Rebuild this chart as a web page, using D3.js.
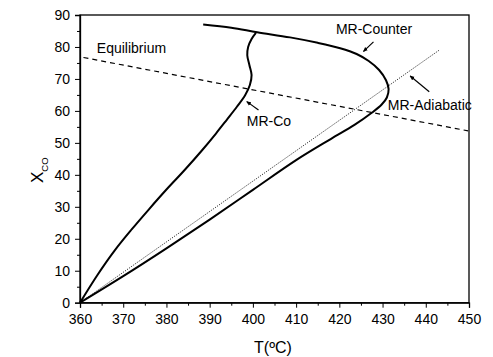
<!DOCTYPE html>
<html>
<head>
<meta charset="utf-8">
<script src="https://cdn.jsdelivr.net/npm/d3@7"></script>
<style>
  html, body { margin: 0; padding: 0; background: #fff; }
  svg { display: block; }
  text { font-family: Arial, "Liberation Sans", Helvetica, sans-serif; fill: #000; }
</style>
</head>
<body>
<svg id="chart" width="493" height="357"></svg>
<script>
// ---- data (T in °C, X_CO in %) ----
const xTicks = [360, 370, 380, 390, 400, 410, 420, 430, 440, 450];
const yTicks = [0, 10, 20, 30, 40, 50, 60, 70, 80, 90];

const coT = [360, 364, 368, 372, 376, 380, 384, 388, 391.5, 394, 396.3, 398.2, 399.3, 399.7, 399.2, 398.7, 398.9, 399.7, 400.7];
const coX = [0, 8.6, 16.3, 23, 29.3, 35.4, 41.2, 47.3, 53, 57.3, 61.3, 64.9, 68.1, 71.2, 74.3, 77.4, 80, 82.5, 84.4];

const counterT = [360, 370, 380, 390, 400, 410, 418, 423.5, 427.5, 429.8, 431, 431.4, 430.8, 429.2, 426.8, 424, 420.2, 415, 408.6, 401, 395, 388.5];
const counterX = [0, 8.3, 17.0, 26.0, 35.3, 44.6, 51.2, 55.6, 59.4, 62, 64.2, 66.8, 69.6, 72.8, 75.6, 77.8, 79.6, 81.3, 83, 84.6, 86, 87];

const adiabaticT = [360, 443.1];
const adiabaticX = [0, 79];

const equilT = [360.8, 449.8];
const equilX = [76.7, 53.75];

const labelNames = ["Equilibrium", "MR-Counter", "MR-Adiabatic", "MR-Co"];
const labelT = [363.9, 419.2, 431.2, 398.6];
const labelX = [78.1, 83.9, 60.3, 55.3];

const arrowFromT = [427.9, 440.8, 401.3];
const arrowFromX = [81.6, 66.0, 60.3];
const arrowToT = [425.6, 436.4, 398.6];
const arrowToX = [78.6, 70.9, 62.9];

// ---- layout ----
const svg = d3.select("#chart");
const x = d3.scaleLinear().domain([360, 450]).range([80, 469]);
const y = d3.scaleLinear().domain([0, 90]).range([302.7, 15]);

const defs = svg.append("defs");
defs.append("marker")
  .attr("id", "ah").attr("viewBox", "0 -3 6 6")
  .attr("refX", 5).attr("refY", 0)
  .attr("markerWidth", 5).attr("markerHeight", 5)
  .attr("markerUnits", "userSpaceOnUse")
  .attr("orient", "auto")
  .append("path").attr("d", "M0,-2.5L6,0L0,2.5Z").attr("fill", "#000");

// frame
svg.append("rect")
  .attr("x", x(360)).attr("y", y(90))
  .attr("width", x(450) - x(360)).attr("height", y(0) - y(90))
  .attr("fill", "none").attr("stroke", "#000").attr("stroke-width", 1.3);

// axes
const minorX = d3.range(365, 450, 10);
const minorY = d3.range(5, 90, 10);

svg.append("g").attr("transform", `translate(0,${y(0)})`)
  .call(d3.axisBottom(x).tickValues(xTicks).tickFormat(d3.format("d")).tickSize(5).tickPadding(6));
svg.append("g").attr("transform", `translate(0,${y(0)})`)
  .call(d3.axisBottom(x).tickValues(minorX).tickFormat("").tickSize(3))
  .call(g => g.select(".domain").remove());

svg.append("g").attr("transform", `translate(${x(360)},0)`)
  .call(d3.axisLeft(y).tickValues(yTicks).tickFormat(d3.format("d")).tickSize(5).tickPadding(5));
svg.append("g").attr("transform", `translate(${x(360)},0)`)
  .call(d3.axisLeft(y).tickValues(minorY).tickFormat("").tickSize(3))
  .call(g => g.select(".domain").remove());

svg.selectAll(".domain").attr("stroke-width", 1.3);
svg.selectAll(".tick line").attr("stroke", "#000").attr("stroke-width", 1);
svg.selectAll(".tick text")
  .style("font-family", "Arial, 'Liberation Sans', sans-serif")
  .style("font-size", "14px").attr("fill", "#000");

// axis titles
svg.append("text")
  .attr("x", 273).attr("y", 353)
  .attr("text-anchor", "middle")
  .style("font-size", "16px")
  .text("T(ºC)");

const yt = svg.append("text")
  .attr("transform", "translate(43,183) rotate(-90)")
  .style("font-size", "17px");
yt.append("tspan").text("X");
yt.append("tspan").attr("dy", 5).style("font-size", "9.5px").text("CO");

// curves
const line = d3.line().x(d => x(d[0])).y(d => y(d[1])).curve(d3.curveCatmullRom.alpha(0.5));
const straight = d3.line().x(d => x(d[0])).y(d => y(d[1]));

svg.append("path")
  .datum(equilT.map((t, i) => [t, equilX[i]]))
  .attr("d", straight)
  .attr("fill", "none").attr("stroke", "#000")
  .attr("stroke-width", 1.2).attr("stroke-dasharray", "5,4");

svg.append("path")
  .datum(adiabaticT.map((t, i) => [t, adiabaticX[i]]))
  .attr("d", straight)
  .attr("fill", "none").attr("stroke", "#333")
  .attr("stroke-width", 1).attr("stroke-dasharray", "1.2,1.3");

svg.append("path")
  .datum(counterT.map((t, i) => [t, counterX[i]]))
  .attr("d", line)
  .attr("fill", "none").attr("stroke", "#000").attr("stroke-width", 2);

svg.append("path")
  .datum(coT.map((t, i) => [t, coX[i]]))
  .attr("d", line)
  .attr("fill", "none").attr("stroke", "#000").attr("stroke-width", 2);

// arrows
arrowFromT.forEach((t, i) => {
  svg.append("line")
    .attr("x1", x(t)).attr("y1", y(arrowFromX[i]))
    .attr("x2", x(arrowToT[i])).attr("y2", y(arrowToX[i]))
    .attr("stroke", "#000").attr("stroke-width", 1.2)
    .attr("marker-end", "url(#ah)");
});

// labels
labelNames.forEach((n, i) => {
  svg.append("text")
    .attr("x", x(labelT[i])).attr("y", y(labelX[i]))
    .style("font-size", "14px")
    .text(n);
});
</script>
</body>
</html>
